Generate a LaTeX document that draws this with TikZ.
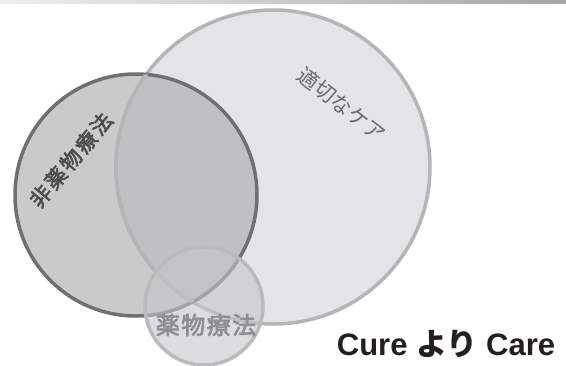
\documentclass[tikz,border=0pt]{standalone}
\usepackage{fontspec}
\setmainfont{Liberation Sans}
\newfontfamily\cjk{Noto Sans CJK JP}
\newfontfamily\cjkb[FakeBold=2.8]{Noto Sans CJK JP}
\usetikzlibrary{shadings}
\definecolor{bigfill}{HTML}{E3E4E6}
\definecolor{bigline}{HTML}{B4B5B7}
\definecolor{darkfill}{HTML}{ADADAF}
\definecolor{darkline}{HTML}{6F7073}
\definecolor{smallfill}{HTML}{C5C6C8}
\definecolor{smallline}{HTML}{B9BABC}
\definecolor{txtdark}{HTML}{4D4D4F}
\definecolor{txtmid}{HTML}{6B6B6D}
\definecolor{txtlight}{HTML}{8D8E90}
\definecolor{txtblack}{HTML}{231F20}
\definecolor{barleft}{HTML}{EFEFEF}
\definecolor{barright}{HTML}{A6A6A8}
\tikzset{
  circ/.style={circle, inner sep=0pt, line width=3.5pt},
  lbl/.style={inner sep=0pt}
}
\begin{document}
\begin{tikzpicture}[x=1pt,y=-1pt]
\useasboundingbox (0,0) rectangle (566,365);
\fill[white] (0,0) rectangle (566,365);
\shade[left color=barleft, right color=barright] (0,0) rectangle (566,3.5);
% big circle
\node[circ, minimum size=314pt, fill=bigfill, draw=bigline] (care) at (273,167) {};
% dark circle
\node[circ, minimum size=242pt, fill=darkfill, fill opacity=0.64, draw=darkline] (nondrug) at (136,195) {};
% redraw big circle stroke inside
\begin{scope}
\clip (136,195) circle (121pt);
\draw[bigline, line width=3.5pt] (273,167) circle (157pt);
\end{scope}
% small circle
\node[circ, minimum size=118pt, fill=smallfill, fill opacity=0.6, draw=smallline] (drug) at (204,306) {};
% labels
\node[lbl, font=\cjkb\fontsize{21}{21}\selectfont\addfontfeatures{LetterSpace=12}, text=txtdark, rotate=50] (t1) at (71,160) {非薬物療法};
\node[lbl, font=\cjk\fontsize{21}{21}\selectfont, text=txtmid, rotate=-38] (t2) at (342,105) {適切なケア};
\node[lbl, font=\cjkb\fontsize{24}{24}\selectfont\addfontfeatures{LetterSpace=6}, text=txtlight] (t3) at (206,325) {薬物療法};
\node[lbl, text=txtblack, font=\bfseries\fontsize{31}{31}\selectfont, anchor=base] (t4) at (446,355) {Cure {\cjk\bfseries より} Care};
\end{tikzpicture}
\end{document}
